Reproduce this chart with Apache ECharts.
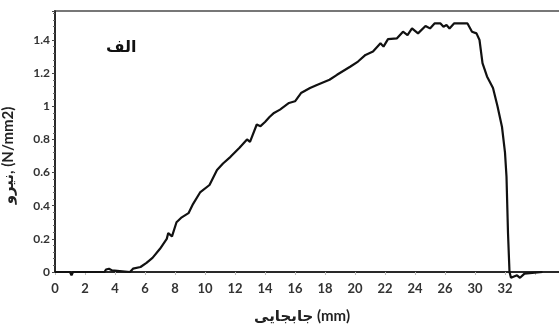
<!DOCTYPE html>
<html>
<head>
<meta charset="utf-8">
<script src="https://cdn.jsdelivr.net/npm/echarts@6/dist/echarts.min.js"></script>
<style>
html,body{margin:0;padding:0;background:#fff;}
#chart{width:559px;height:332px;}
</style>
</head>
<body>
<div id="chart"></div>
<script>
// Displacement (mm, in axis units) and force (N/mm2)
const displacement = [0,1.0,1.1,1.2,2.7,2.8,2.9,3.3,3.4,3.6,3.8,3.9,5.0,5.2,5.7,6.1,6.5,7.0,7.45,7.55,7.8,8.1,8.45,8.9,9.2,9.67,10.3,10.8,11.2,11.7,12.3,12.8,13.0,13.45,13.7,14.0,14.3,14.6,15.0,15.6,16.0,16.4,17.0,17.5,18.3,18.8,19.7,20.2,20.7,21.2,21.7,21.9,22.2,22.8,23.2,23.5,23.8,24.2,24.7,25.0,25.3,25.7,25.9,26.1,26.3,26.6,27.5,27.8,28.1,28.3,28.5,28.8,29.2,29.5,29.8,30.0,30.1,30.2,30.3,30.4,30.8,31.0,31.3,32.5];
const force = [0,0,-0.02,0,0,0.012,0,0,0.015,0.02,0.01,0,0,0.02,0.03,0.055,0.085,0.14,0.2,0.235,0.215,0.30,0.33,0.355,0.41,0.48,0.525,0.615,0.655,0.695,0.75,0.80,0.785,0.89,0.88,0.905,0.935,0.96,0.98,1.02,1.03,1.08,1.11,1.13,1.16,1.19,1.24,1.27,1.31,1.33,1.38,1.36,1.405,1.41,1.45,1.43,1.47,1.44,1.485,1.47,1.50,1.50,1.48,1.49,1.47,1.50,1.50,1.45,1.44,1.40,1.26,1.18,1.11,1.00,0.875,0.72,0.575,0.235,0.0,-0.035,-0.02,-0.035,-0.01,0];
// Tick labels as printed on the x axis (positions 0,2,...,30)
const xTickLabels = ['0','2','4','6','8','10','12','14','16','18','20','22','24','26','30','32'];
const yTickLabels = ['0','0.2','0.4','0.6','0.8','1','1.2','1.4'];
const xAxisTitle = 'جابجایی (mm)';
const yAxisTitle = 'نیرو, (N/mm2)';
const panelLabel = 'الف';

const FONT = 'Lato, "DejaVu Sans", sans-serif';
const chart = echarts.init(document.getElementById('chart'), null, {renderer:'canvas'});
chart.setOption({
  animation:false,
  backgroundColor:'#fff',
  grid:{left:55, top:11, right:-6, bottom:60, show:true, borderColor:'#777', borderWidth:2, backgroundColor:'transparent', containLabel:false, outerBoundsMode:'none'},
  xAxis:{
    type:'value', min:0, max:34, interval:2,
    name:xAxisTitle, nameLocation:'middle', nameGap:37,
    nameTextStyle:{fontFamily:FONT, fontWeight:'bold', fontSize:15, color:'#222', padding:[0,0,0,-16]},
    axisLine:{lineStyle:{color:'#111', width:1.5}},
    axisTick:{show:true, length:3, lineStyle:{color:'#bbb'}},
    splitLine:{show:false},
    axisLabel:{
      margin:10, fontFamily:FONT, fontWeight:'bold', fontSize:13, color:'#333',
      formatter:function(v){ const i=Math.round(v/2); return (Math.abs(v-i*2)<1e-6 && i<xTickLabels.length)? xTickLabels[i] : ''; }
    }
  },
  yAxis:{
    type:'value', min:0, max:1.575, interval:0.2,
    name:yAxisTitle, nameLocation:'middle', nameGap:39, nameRotate:90,
    nameTextStyle:{fontFamily:FONT, fontWeight:'bold', fontSize:15, color:'#222', padding:[0,0,0,-28]},
    axisLine:{lineStyle:{color:'#111', width:1.5}},
    axisTick:{show:true, length:3, lineStyle:{color:'#444'}},
    minorTick:{show:true, splitNumber:5, length:2, lineStyle:{color:'#666'}},
    splitLine:{show:false},
    axisLabel:{
      margin:5, fontFamily:FONT, fontWeight:'bold', fontSize:12, color:'#333',
      formatter:function(v){ const i=Math.round(v/0.2); return (Math.abs(v-i*0.2)<1e-6 && i<yTickLabels.length)? yTickLabels[i] : ''; }
    }
  },
  graphic:[{type:'text', left:106, top:40, style:{text:panelLabel, font:'bold 16px "DejaVu Sans", sans-serif', fill:'#111'}}],
  series:[{
    type:'line', data:displacement.map((x,i)=>[x,force[i]]),
    showSymbol:false, clip:false, smooth:false,
    lineStyle:{color:'#111', width:2.2}
  }]
});
</script>
</body>
</html>
